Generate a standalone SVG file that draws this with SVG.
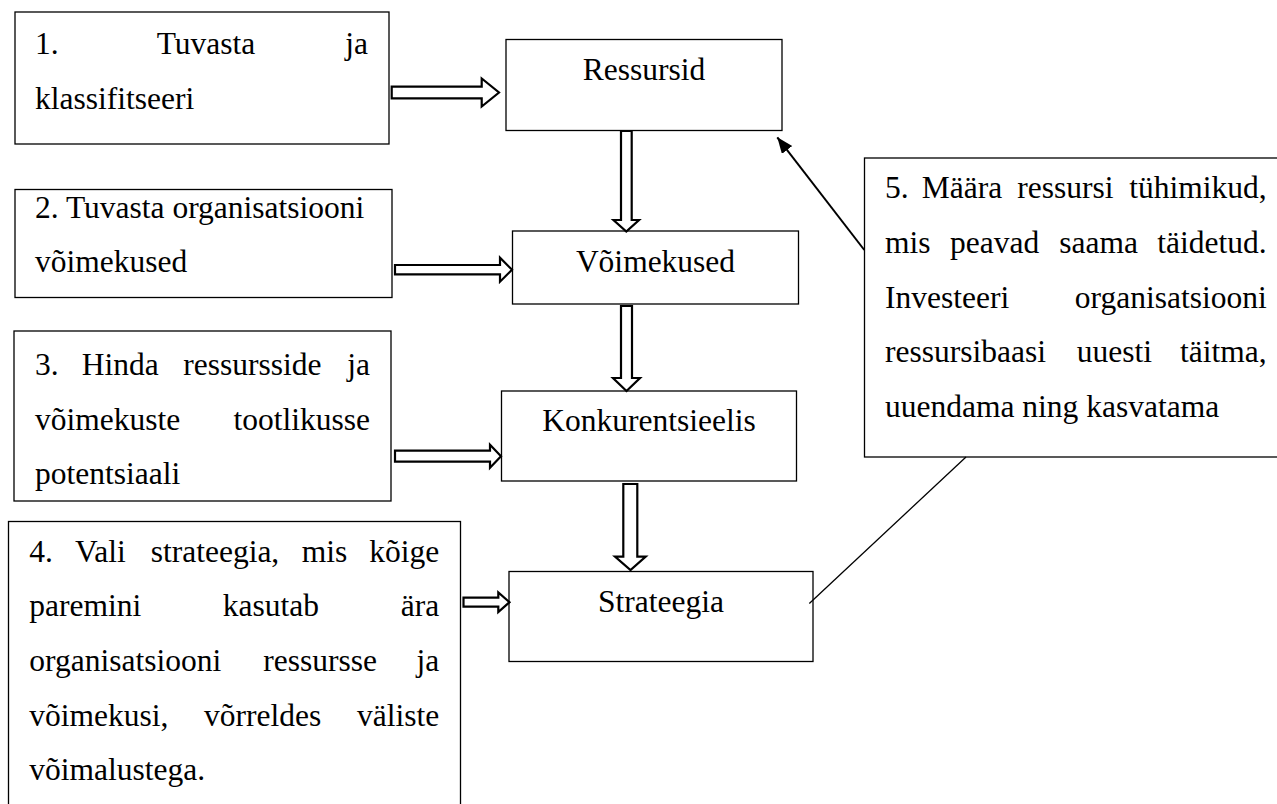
<svg xmlns="http://www.w3.org/2000/svg" width="1277" height="804" viewBox="0 0 1277 804">
<style>
.box{fill:#fff;stroke:#000;stroke-width:1.3}
.t{font-family:"Liberation Serif","Times New Roman",serif;font-size:31.5px;fill:#000}
.c{text-anchor:middle}
.e{text-anchor:end}
.blk{fill:#fff;stroke:#000;stroke-width:2.2;stroke-linejoin:miter}
.thin{fill:none;stroke:#000}
</style>
<defs>
<marker id="ah" markerUnits="userSpaceOnUse" markerWidth="18" markerHeight="14" refX="16" refY="6.5" orient="auto">
<path d="M0,0 L16,6.5 L0,13 Z" fill="#000"/>
</marker>
</defs>
<rect width="1277" height="804" fill="#fff"/>

<g id="n1">
<rect class="box" x="15" y="12" width="374" height="132"/>
<text class="t" x="35" y="54">1.</text>
<text class="t" x="156.7" y="54">Tuvasta</text>
<text class="t e" x="368" y="54">ja</text>
<text class="t" x="35" y="108.5">klassifitseeri</text>
</g>

<g id="n2">
<rect class="box" x="15" y="189.5" width="377" height="108"/>
<text class="t" x="35" y="218">2. Tuvasta organisatsiooni</text>
<text class="t" x="35" y="272">võimekused</text>
</g>

<g id="n3">
<rect class="box" x="14" y="331" width="377" height="170"/>
<text class="t" x="35" y="375">3.</text>
<text class="t" x="81.7" y="375">Hinda</text>
<text class="t" x="183.3" y="375">ressursside</text>
<text class="t e" x="370" y="375">ja</text>
<text class="t" x="35" y="429.5">võimekuste</text>
<text class="t e" x="370" y="429.5">tootlikusse</text>
<text class="t" x="35" y="484">potentsiaali</text>
</g>

<g id="n4">
<rect class="box" x="8.5" y="521.5" width="452" height="300"/>
<text class="t" x="29.3" y="561.7">4.</text>
<text class="t" x="75" y="561.7">Vali</text>
<text class="t" x="150.7" y="561.7">strateegia,</text>
<text class="t" x="301.7" y="561.7">mis</text>
<text class="t e" x="439.3" y="561.7">kõige</text>
<text class="t" x="29.3" y="616.3">paremini</text>
<text class="t" x="222.7" y="616.3">kasutab</text>
<text class="t e" x="439.3" y="616.3">ära</text>
<text class="t" x="29.3" y="671">organisatsiooni</text>
<text class="t" x="263.3" y="671">ressursse</text>
<text class="t e" x="439.3" y="671">ja</text>
<text class="t" x="29.3" y="725.6">võimekusi,</text>
<text class="t" x="204" y="725.6">võrreldes</text>
<text class="t e" x="439.3" y="725.6">väliste</text>
<text class="t" x="29.3" y="780">võimalustega.</text>
</g>

<g id="n5">
<rect class="box" x="864.5" y="158" width="450" height="299"/>
<text class="t" x="885" y="198.3">5.</text>
<text class="t" x="921.7" y="198.3">Määra</text>
<text class="t" x="1017.3" y="198.3">ressursi</text>
<text class="t e" x="1266.7" y="198.3">tühimikud,</text>
<text class="t" x="885" y="253">mis</text>
<text class="t" x="950" y="253">peavad</text>
<text class="t" x="1059.3" y="253">saama</text>
<text class="t e" x="1266.7" y="253">täidetud.</text>
<text class="t" x="885" y="307.5">Investeeri</text>
<text class="t e" x="1266.7" y="307.5">organisatsiooni</text>
<text class="t" x="885" y="362">ressursibaasi</text>
<text class="t" x="1076.7" y="362">uuesti</text>
<text class="t e" x="1266.7" y="362">täitma,</text>
<text class="t" x="885" y="416.7">uuendama ning kasvatama</text>
</g>

<g id="ressursid">
<rect class="box" x="506" y="39.5" width="276" height="91"/>
<text class="t c" x="644" y="80">Ressursid</text>
</g>

<g id="voimekused">
<rect class="box" x="512.5" y="231" width="286" height="73"/>
<text class="t c" x="655.5" y="272">Võimekused</text>
</g>

<g id="konkurentsieelis">
<rect class="box" x="501.5" y="391" width="295" height="90"/>
<text class="t c" x="649" y="431">Konkurentsieelis</text>
</g>

<g id="strateegia">
<rect class="box" x="509" y="571.5" width="304" height="90"/>
<text class="t c" x="661" y="611.7">Strateegia</text>
</g>

<g id="connectors">
<path class="blk" d="M391.7,86.7 H481.7 V78.5 L499,92.5 L481.7,106.5 V98.3 H391.7 Z"/>
<path class="blk" d="M395,265 H500 V257.7 L512,269.7 L500,281.7 V274.3 H395 Z"/>
<path class="blk" d="M395,450.7 H490 V444.7 L501,456.2 L490,467.8 V461.7 H395 Z"/>
<path class="blk" d="M463.5,597.7 H498.3 V592.5 L509.5,602.2 L498.3,612 V606.7 H463.5 Z"/>
<path class="blk" d="M621,131 V220 H613.5 L626.3,231.5 L639,220 H631.7 V131 Z"/>
<path class="blk" d="M621,306 V378 H613 L626.5,391 L640,378 H632 V306 Z"/>
<path class="blk" d="M623.3,484 V556.7 H615 L630.5,570 L645.7,556.7 H637.3 V484 Z"/>
<line class="thin" x1="864.3" y1="250" x2="777.3" y2="137.3" stroke-width="2" marker-end="url(#ah)"/>
<line class="thin" x1="809.3" y1="603.5" x2="966" y2="457" stroke-width="1.3"/>
</g>
</svg>
